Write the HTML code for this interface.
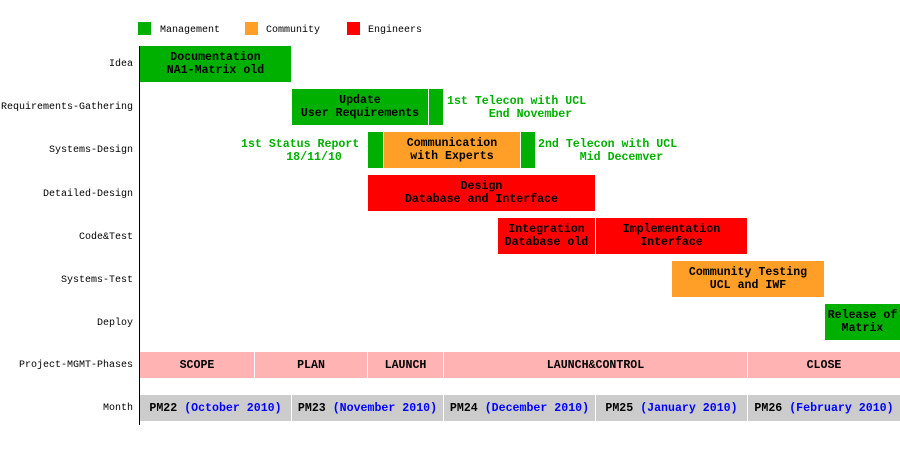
<!DOCTYPE html>
<html><head><meta charset="utf-8"><style>
body{margin:0;width:900px;height:450px;background:#fff;position:relative;overflow:hidden;font-family:"Liberation Mono",monospace}
.a{position:absolute}
.b{position:absolute;display:flex;align-items:center;justify-content:center;text-align:center;font-weight:bold;font-size:11.6px;line-height:13px;color:#000;white-space:pre}
.g{background:#00b000}.o{background:#ff9f27}.r{background:#ff0000}.p{background:#ffb3b3}.s{background:#cccccc}
.l{position:absolute;right:767px;font-size:10px;color:#000;white-space:pre}
.t{position:absolute;font-weight:bold;font-size:11.6px;line-height:13px;color:#00b000;text-align:center;white-space:pre}
.m{position:absolute;font-size:10px;color:#000}
.bl{color:#0000ff}
</style></head><body>
<div class="a g" style="left:138px;top:22px;width:13px;height:13px"></div><div class="m" style="left:160px;top:25px">Management</div>
<div class="a o" style="left:245px;top:22px;width:13px;height:13px"></div><div class="m" style="left:266px;top:25px">Community</div>
<div class="a r" style="left:347px;top:22px;width:13px;height:13px"></div><div class="m" style="left:368px;top:25px">Engineers</div>
<div class="a" style="left:139px;top:46px;width:1px;height:379px;background:#000"></div>

<div class="l" style="top:59px">Idea</div>
<div class="l" style="top:102px">Requirements-Gathering</div>
<div class="l" style="top:145px">Systems-Design</div>
<div class="l" style="top:189px">Detailed-Design</div>
<div class="l" style="top:232px">Code&amp;Test</div>
<div class="l" style="top:275px">Systems-Test</div>
<div class="l" style="top:318px">Deploy</div>
<div class="l" style="top:360px">Project-MGMT-Phases</div>
<div class="l" style="top:403px">Month</div>

<div class="b g" style="left:140px;top:46px;width:151px;height:36px">Documentation
NA1-Matrix old</div>
<div class="b g" style="left:292px;top:89px;width:136px;height:36px">Update
User Requirements</div>
<div class="b g" style="left:429px;top:89px;width:14px;height:36px"></div>
<div class="t" style="left:447px;top:95px">1st Telecon with UCL
    End November</div>
<div class="t" style="left:241px;top:138px">1st Status Report
    18/11/10</div>
<div class="b g" style="left:368px;top:132px;width:15px;height:36px"></div>
<div class="b o" style="left:384px;top:132px;width:136px;height:36px">Communication
with Experts</div>
<div class="b g" style="left:521px;top:132px;width:14px;height:36px"></div>
<div class="t" style="left:538px;top:138px">2nd Telecon with UCL
    Mid Decemver</div>
<div class="b r" style="left:368px;top:175px;width:227px;height:36px">Design
Database and Interface</div>
<div class="b r" style="left:498px;top:218px;width:97px;height:36px">Integration
Database old</div>
<div class="b r" style="left:596px;top:218px;width:151px;height:36px">Implementation
Interface</div>
<div class="b o" style="left:672px;top:261px;width:152px;height:36px">Community Testing
UCL and IWF</div>
<div class="b g" style="left:825px;top:304px;width:75px;height:36px">Release of
Matrix</div>

<div class="b p" style="left:140px;top:352px;width:114px;height:26px">SCOPE</div>
<div class="b p" style="left:255px;top:352px;width:112px;height:26px">PLAN</div>
<div class="b p" style="left:368px;top:352px;width:75px;height:26px">LAUNCH</div>
<div class="b p" style="left:444px;top:352px;width:303px;height:26px">LAUNCH&amp;CONTROL</div>
<div class="b p" style="left:748px;top:352px;width:152px;height:26px">CLOSE</div>

<div class="b s" style="left:140px;top:395px;width:151px;height:26px">PM22 <span class="bl">(October 2010)</span></div>
<div class="b s" style="left:292px;top:395px;width:151px;height:26px">PM23 <span class="bl">(November 2010)</span></div>
<div class="b s" style="left:444px;top:395px;width:151px;height:26px">PM24 <span class="bl">(December 2010)</span></div>
<div class="b s" style="left:596px;top:395px;width:151px;height:26px">PM25 <span class="bl">(January 2010)</span></div>
<div class="b s" style="left:748px;top:395px;width:152px;height:26px">PM26 <span class="bl">(February 2010)</span></div>
</body></html>
